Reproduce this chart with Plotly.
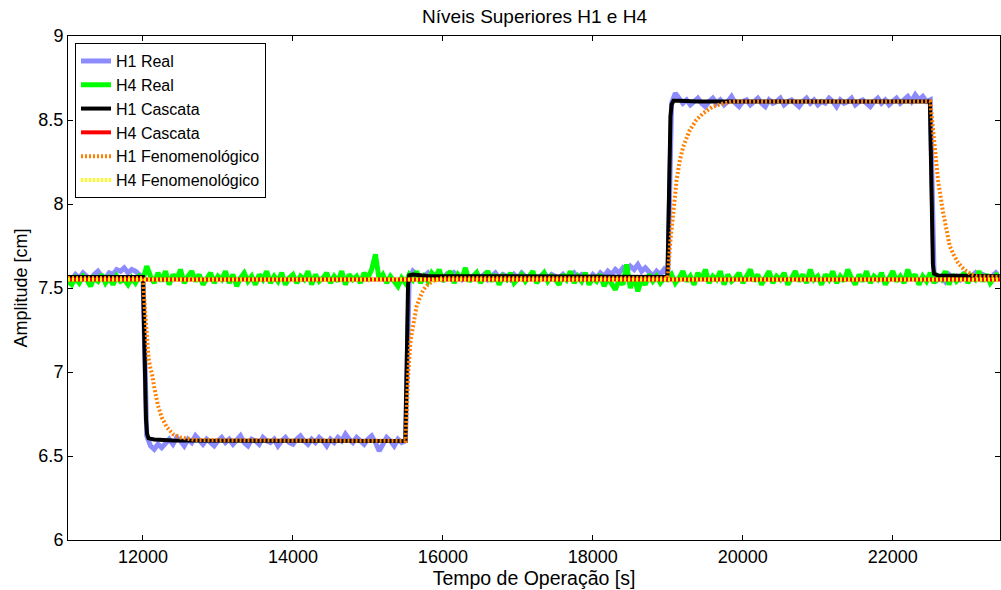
import plotly.graph_objects as go

# ---------------- data ----------------
# sampled time grid for the measured series (s)
t_real = list(range(11000, 23401, 50))

h1_real = [
    # 11000-12000
    7.57, 7.55, 7.58, 7.56, 7.59, 7.57, 7.55, 7.58, 7.60, 7.57, 7.56, 7.59, 7.58, 7.61, 7.60, 7.62, 7.59, 7.61, 7.60, 7.58, 7.57,
    # 12050-15500
    6.62, 6.56, 6.54, 6.57, 6.55, 6.58, 6.60, 6.57, 6.61, 6.59,
    6.56, 6.60, 6.58, 6.62, 6.59, 6.57, 6.60, 6.58, 6.56, 6.59,
    6.61, 6.58, 6.60, 6.57, 6.59, 6.62, 6.58, 6.56, 6.60, 6.59,
    6.57, 6.61, 6.59, 6.58, 6.60, 6.56, 6.59, 6.61, 6.58, 6.57,
    6.60, 6.62, 6.59, 6.57, 6.60, 6.58, 6.61, 6.59, 6.56, 6.60,
    6.58, 6.61, 6.59, 6.63, 6.60, 6.58, 6.61, 6.59, 6.57, 6.60,
    6.62, 6.58, 6.53, 6.57, 6.61, 6.59, 6.56, 6.60, 6.58, 6.59,
    # 15550-19000
    7.55, 7.60, 7.58, 7.56, 7.57, 7.59, 7.56, 7.58, 7.57, 7.55,
    7.58, 7.56, 7.59, 7.57, 7.55, 7.58, 7.56, 7.57, 7.59, 7.56,
    7.58, 7.55, 7.57, 7.59, 7.56, 7.58, 7.57, 7.55, 7.58, 7.56,
    7.59, 7.57, 7.56, 7.58, 7.55, 7.57, 7.59, 7.56, 7.58, 7.57,
    7.56, 7.58, 7.55, 7.57, 7.59, 7.56, 7.58, 7.57, 7.55, 7.58,
    7.56, 7.59, 7.57, 7.60, 7.58, 7.61, 7.59, 7.62, 7.60, 7.63,
    7.61, 7.64, 7.60, 7.62, 7.59, 7.57, 7.60, 7.58, 7.61, 7.58,
    # 19050-22500
    8.60, 8.66, 8.63, 8.60, 8.62, 8.59, 8.61, 8.63, 8.60, 8.58,
    8.61, 8.63, 8.60, 8.62, 8.59, 8.61, 8.64, 8.60, 8.58, 8.61,
    8.62, 8.59, 8.61, 8.63, 8.60, 8.58, 8.62, 8.60, 8.61, 8.63,
    8.59, 8.61, 8.62, 8.60, 8.58, 8.61, 8.63, 8.60, 8.62, 8.59,
    8.61, 8.60, 8.63, 8.61, 8.58, 8.62, 8.60, 8.61, 8.63, 8.59,
    8.61, 8.62, 8.60, 8.58, 8.61, 8.63, 8.60, 8.62, 8.59, 8.61,
    8.63, 8.60, 8.62, 8.64, 8.61, 8.65, 8.62, 8.64, 8.61, 8.62,
    # 22550-23400
    7.59, 7.55, 7.57, 7.54, 7.58, 7.56, 7.57, 7.55, 7.58, 7.56,
    7.57, 7.59, 7.56, 7.58, 7.57, 7.55, 7.58, 7.60,
]

h4_real = [
    7.54, 7.52, 7.56, 7.53, 7.57, 7.55, 7.51, 7.56, 7.54, 7.58, 7.53, 7.56, 7.52, 7.57, 7.54, 7.55, 7.52, 7.56, 7.53, 7.57, 7.55,
    7.63, 7.57, 7.53, 7.59, 7.54, 7.60, 7.52, 7.58, 7.55, 7.61,
    7.53, 7.57, 7.60, 7.54, 7.58, 7.52, 7.56, 7.59, 7.53, 7.57,
    7.55, 7.60, 7.53, 7.58, 7.51, 7.56, 7.59, 7.54, 7.57, 7.52,
    7.58, 7.55, 7.60, 7.53, 7.57, 7.54, 7.59, 7.52, 7.56, 7.58,
    7.53, 7.57, 7.55, 7.60, 7.52, 7.58, 7.54, 7.56, 7.59, 7.53,
    7.57, 7.54, 7.60, 7.52, 7.58, 7.55, 7.57, 7.53, 7.59, 7.56,
    7.61, 7.70, 7.55, 7.58, 7.53, 7.57, 7.54, 7.51, 7.56, 7.53,
    7.58, 7.55, 7.60, 7.53, 7.57, 7.54, 7.59, 7.56, 7.61, 7.54,
    7.57, 7.60, 7.53, 7.58, 7.55, 7.62, 7.54, 7.57, 7.59, 7.53,
    7.56, 7.60, 7.54, 7.58, 7.52, 7.57, 7.55, 7.59, 7.53, 7.56,
    7.58, 7.54, 7.57, 7.60, 7.53, 7.56, 7.59, 7.54, 7.57, 7.55,
    7.52, 7.58, 7.55, 7.60, 7.53, 7.57, 7.54, 7.59, 7.52, 7.56,
    7.54, 7.58, 7.51, 7.56, 7.53, 7.49, 7.55, 7.52, 7.64, 7.50,
    7.57, 7.48, 7.55, 7.52, 7.58, 7.54, 7.57, 7.53, 7.56, 7.55,
    7.58, 7.53, 7.56, 7.60, 7.54, 7.57, 7.52, 7.59, 7.55, 7.61,
    7.53, 7.57, 7.55, 7.60, 7.52, 7.58, 7.54, 7.56, 7.59, 7.53,
    7.57, 7.61, 7.54, 7.58, 7.52, 7.56, 7.60, 7.53, 7.57, 7.55,
    7.59, 7.52, 7.56, 7.60, 7.54, 7.58, 7.53, 7.61, 7.55, 7.57,
    7.52, 7.58, 7.55, 7.60, 7.53, 7.57, 7.54, 7.61, 7.56, 7.52,
    7.58, 7.54, 7.60, 7.53, 7.57, 7.55, 7.59, 7.52, 7.56, 7.60,
    7.54, 7.57, 7.53, 7.61, 7.55, 7.58, 7.52, 7.57, 7.54, 7.59,
    7.53, 7.57, 7.55, 7.60, 7.52, 7.58, 7.54, 7.56, 7.59, 7.53,
    7.57, 7.55, 7.60, 7.54, 7.58, 7.53, 7.56, 7.59,
]

t_cascata = [11000, 12000, 12010, 12020, 12030, 12040, 12055, 12075, 12150, 12400,
             15500, 15505, 15515, 15525, 15535, 15550, 15600, 15800,
             18995, 19005, 19015, 19025, 19035, 19050, 19075, 19150, 19400,
             22495, 22505, 22515, 22525, 22535, 22550, 22600, 23430]
h1_cascata = [7.565, 7.565, 7.35, 7.10, 6.88, 6.72, 6.63, 6.605, 6.598, 6.592,
              6.59, 6.80, 7.10, 7.35, 7.52, 7.575, 7.58, 7.572,
              7.565, 7.80, 8.10, 8.35, 8.52, 8.59, 8.615, 8.615, 8.61,
              8.61, 8.35, 8.05, 7.80, 7.64, 7.585, 7.575, 7.57]

t_h4_cascata = [11000, 23430]
h4_cascata = [7.55, 7.55]

t_fenom = [11000, 12000, 12025, 12050, 12075, 12100, 12120, 12150, 12200, 12250, 12320, 12400, 12500, 12700,
           15500, 15515, 15537, 15569, 15600, 15649, 15700, 15740, 15800, 15900, 16000,
           19000, 19030, 19071, 19116, 19160, 19204, 19293, 19380, 19471, 19600, 19750, 19870,
           22500, 22530, 22560, 22604, 22671, 22760, 22810, 22871, 22950, 23050, 23120, 23430]
h1_fenom = [7.56, 7.56, 7.38, 7.19, 7.08, 7.02, 6.99, 6.91, 6.80, 6.73, 6.67, 6.63, 6.61, 6.595,
            6.59, 6.75, 6.99, 7.19, 7.28, 7.39, 7.45, 7.49, 7.52, 7.55, 7.56,
            7.56, 7.76, 7.95, 8.14, 8.26, 8.34, 8.44, 8.50, 8.54, 8.58, 8.60, 8.61,
            8.61, 8.48, 8.34, 8.14, 7.95, 7.75, 7.70, 7.65, 7.61, 7.58, 7.57, 7.565]

t_h4_fenom = [11000, 23430]
h4_fenom = [7.55, 7.55]

x_ticks = [12000, 14000, 16000, 18000, 20000, 22000]
y_ticks = [6, 6.5, 7, 7.5, 8, 8.5, 9]

assert len(t_real) == len(h1_real) == len(h4_real), (len(t_real), len(h1_real), len(h4_real))
assert len(t_cascata) == len(h1_cascata)
assert len(t_fenom) == len(h1_fenom)

FONT = "Liberation Sans, Arial, Helvetica, sans-serif"

fig = go.Figure()
fig.add_trace(go.Scatter(x=t_real, y=h1_real, mode="lines", name="H1 Real",
                         line=dict(color="#8C8CFF", width=5), legendgroup="a"))
fig.add_trace(go.Scatter(x=t_real, y=h4_real, mode="lines", name="H4 Real",
                         line=dict(color="#00FF00", width=5), legendgroup="b"))
fig.add_trace(go.Scatter(x=t_cascata, y=h1_cascata, mode="lines", name="H1 Cascata",
                         line=dict(color="#000000", width=4), legendgroup="c"))
fig.add_trace(go.Scatter(x=t_h4_cascata, y=h4_cascata, mode="lines", name="H4 Cascata",
                         line=dict(color="#FF0000", width=4), legendgroup="d"))
fig.add_trace(go.Scatter(x=t_fenom, y=h1_fenom, mode="lines", name="H1 Fenomenológico",
                         line=dict(color="#FF8000", width=4, dash="2px,2px"), legendgroup="e"))
fig.add_trace(go.Scatter(x=t_h4_fenom, y=h4_fenom, mode="lines", name="H4 Fenomenológico",
                         line=dict(color="#FFFF00", width=4, dash="2px,2px"), legendgroup="f"))

fig.update_layout(
    width=1001, height=590,
    margin=dict(l=68, r=1, t=36, b=50),
    paper_bgcolor="white", plot_bgcolor="white",
    font=dict(family=FONT, size=17, color="black"),
    title=dict(text="Níveis Superiores H1 e H4", x=0.534, xanchor="center",
               y=0.973, yanchor="middle", font=dict(size=19, color="black")),
    legend=dict(x=0.0075, y=0.986, xanchor="left", yanchor="top",
                bgcolor="white", bordercolor="black", borderwidth=1,
                font=dict(size=16, color="black"), traceorder="grouped",
                tracegroupgap=0),
    showlegend=True,
)
fig.update_xaxes(range=[11000, 23430], tickvals=x_ticks, ticktext=[str(v) for v in x_ticks],
                 showgrid=False, zeroline=False, showline=True, linecolor="black", linewidth=1,
                 mirror="ticks", ticks="inside", ticklen=5, tickcolor="black",
                 tickfont=dict(size=18),
                 title=dict(text="Tempo de Operação [s]", font=dict(size=19.5), standoff=1))
fig.update_yaxes(range=[6, 9], tickvals=y_ticks, ticktext=[f"{v:g}" for v in y_ticks],
                 showgrid=False, zeroline=False, showline=True, linecolor="black", linewidth=1,
                 mirror="ticks", ticks="inside", ticklen=5, tickcolor="black",
                 tickfont=dict(size=18),
                 title=dict(text="Amplitude [cm]", font=dict(size=18), standoff=6))

fig.write_html("out.html")
